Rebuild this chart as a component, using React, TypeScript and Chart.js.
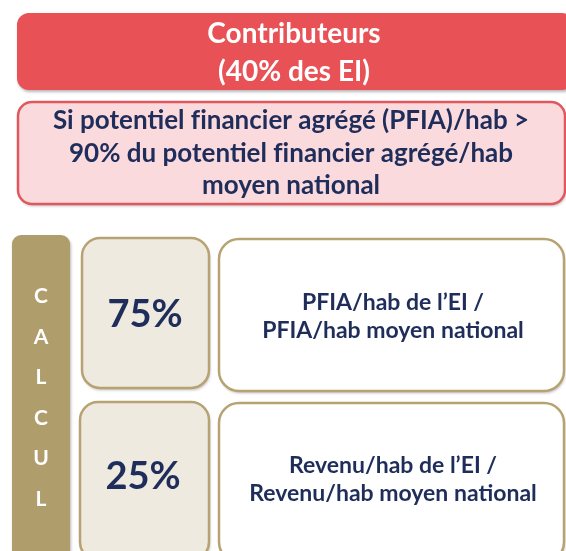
import React, { useEffect, useRef } from "react";
import { Chart, registerables } from "chart.js";

Chart.register(...registerables);

// ---- content ----
const ZWNJ = "\u200C";
const headerLines = ["Contributeurs", "(40% des EI)"];
const conditionLines = [
  `Si potentiel f${ZWNJ}inancier agrégé (PFIA)/hab >`,
  `90% du potentiel f${ZWNJ}inancier agrégé/hab`,
  "moyen national",
];
const sideLetters = ["C", "A", "L", "C", "U", "L"];
const weights = [75, 25];
const formulaTop = ["PFIA/hab de l’EI /", "PFIA/hab moyen national"];
const formulaBottom = ["Revenu/hab de l’EI /", "Revenu/hab moyen national"];

const W = 566;
const H = 551;
const FONT = "Lato, 'Open Sans', sans-serif";
const NAVY = "#1F2D5A";
const TAN = "#B09D6C";
const TAN_BORDER = "#B7A271";

function roundRect(ctx: CanvasRenderingContext2D, x: number, y: number, w: number, h: number, r: number) {
  ctx.beginPath();
  ctx.moveTo(x + r, y);
  ctx.lineTo(x + w - r, y);
  ctx.arcTo(x + w, y, x + w, y + r, r);
  ctx.lineTo(x + w, y + h - r);
  ctx.arcTo(x + w, y + h, x + w - r, y + h, r);
  ctx.lineTo(x + r, y + h);
  ctx.arcTo(x, y + h, x, y + h - r, r);
  ctx.lineTo(x, y + r);
  ctx.arcTo(x, y, x + r, y, r);
  ctx.closePath();
}

const diagramPlugin = {
  id: "diagram",
  afterDraw(chart: any) {
    const ctx: CanvasRenderingContext2D = chart.ctx;
    const xs = chart.scales.x;
    const ys = chart.scales.y;
    const px = (v: number) => xs.getPixelForValue(v);
    const py = (v: number) => ys.getPixelForValue(v);

    const box = (x0: number, y0: number, x1: number, y1: number, r: number, fill: string, stroke?: string, lw = 2.5) => {
      const X = px(x0), Y = py(y0), w = px(x1) - X, h = py(y1) - Y;
      ctx.save();
      ctx.shadowColor = "rgba(0,0,0,0.28)";
      ctx.shadowBlur = 3;
      ctx.shadowOffsetX = 1;
      ctx.shadowOffsetY = 2;
      roundRect(ctx, X, Y, w, h, r);
      ctx.fillStyle = fill;
      ctx.fill();
      ctx.restore();
      if (stroke) {
        ctx.save();
        roundRect(ctx, X, Y, w, h, r);
        ctx.strokeStyle = stroke;
        ctx.lineWidth = lw;
        ctx.stroke();
        ctx.restore();
      }
    };

    const text = (s: string, x: number, y: number, size: number, color: string) => {
      ctx.save();
      ctx.font = `bold ${size}px ${FONT}`;
      ctx.fillStyle = color;
      ctx.textAlign = "center";
      ctx.textBaseline = "alphabetic";
      ctx.fillText(s, px(x), py(y));
      ctx.restore();
    };

    // header
    box(17, 13, 574, 90, 12, "#E85156");
    headerLines.forEach((l, i) => text(l, 294, 43 + i * 38, 28, "#FFFFFF"));

    // condition
    box(18, 102, 565, 204, 14, "#FADADD", "#E0585E", 2.5);
    conditionLines.forEach((l, i) => text(l, 291, 129 + i * 32.5, 26, NAVY));

    // side bar
    box(12, 235, 70, 560, 9, TAN);
    sideLetters.forEach((l, i) => text(l, 41, 303 + i * 40.5, 21, "#FFFFFF"));

    // weight boxes
    box(82, 238, 209, 388, 18, "#EEEAE0", TAN_BORDER, 2.5);
    box(80, 402, 209, 560, 18, "#EEEAE0", TAN_BORDER, 2.5);
    text(`${weights[0]}%`, 145, 327, 38, NAVY);
    text(`${weights[1]}%`, 143, 489, 38, NAVY);

    // formula boxes
    box(219, 239, 564, 391, 20, "#FFFFFF", TAN_BORDER, 2.5);
    box(219, 403, 564, 562, 20, "#FFFFFF", TAN_BORDER, 2.5);
    formulaTop.forEach((l, i) => text(l, 393, 310 + i * 28, 23, NAVY));
    formulaBottom.forEach((l, i) => text(l, 393, 473 + i * 28, 23, NAVY));
  },
};

export default function App() {
  const ref = useRef<HTMLCanvasElement | null>(null);
  useEffect(() => {
    if (!ref.current) return;
    const chart = new Chart(ref.current, {
      type: "scatter",
      data: { datasets: [] },
      options: {
        animation: false,
        responsive: false,
        maintainAspectRatio: false,
        layout: { padding: 0 },
        plugins: { legend: { display: false }, tooltip: { enabled: false } },
        scales: {
          x: { type: "linear", min: 0, max: W, display: false, offset: false, grace: 0 },
          y: { type: "linear", min: 0, max: H, reverse: true, display: false, offset: false, grace: 0 },
        },
      },
      plugins: [diagramPlugin],
    });
    return () => chart.destroy();
  }, []);
  return (
    <div style={{ position: "fixed", left: 0, top: 0, width: W, height: H, background: "#fff" }}>
      <canvas ref={ref} width={W} height={H} style={{ width: W, height: H, display: "block" }} />
    </div>
  );
}
